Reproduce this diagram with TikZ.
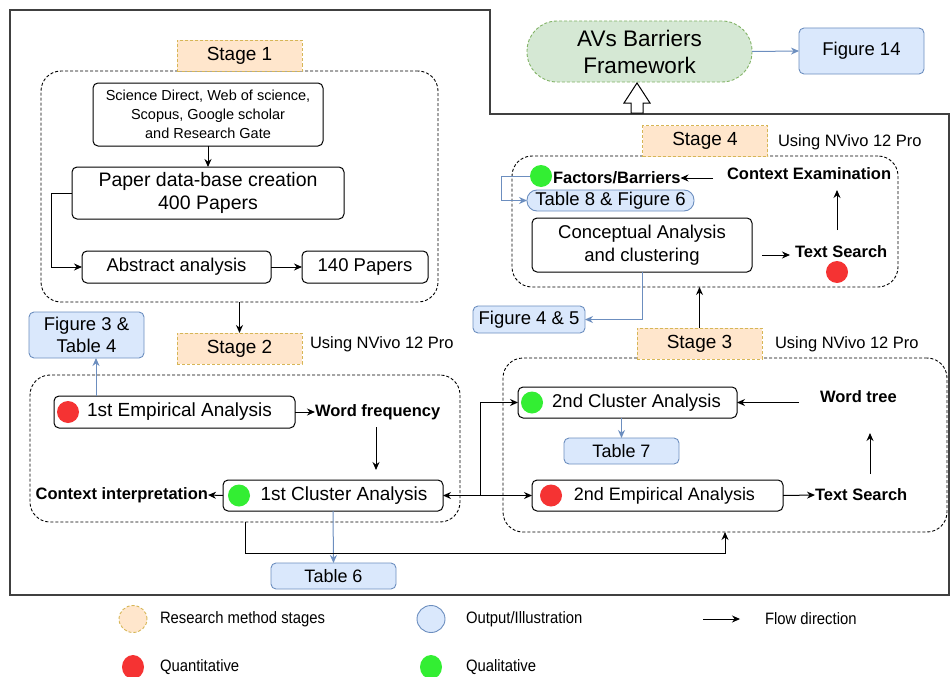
\documentclass[tikz,border=0pt]{standalone}
\usepackage{fontspec}
\setmainfont{Liberation Sans}
\newfontfamily\legfont{Liberation Sans}[FakeStretch=0.9]
\usetikzlibrary{arrows.meta,shapes.geometric}
\definecolor{orfill}{HTML}{FFE6CC}
\definecolor{ordraw}{HTML}{D6B656}
\definecolor{blfill}{HTML}{DAE8FC}
\definecolor{bldraw}{HTML}{6C8EBF}
\definecolor{grfill}{HTML}{D5E8D4}
\definecolor{grdraw}{HTML}{82B366}
\definecolor{reddot}{HTML}{F53333}
\definecolor{grndot}{HTML}{33EE33}
\definecolor{frame}{HTML}{404040}
\tikzset{
  every node/.style={inner sep=0pt, outer sep=0pt},
  wbox/.style={draw=black, fill=white, rounded corners=5pt, line width=1pt, align=center},
  stagebox/.style={draw=ordraw, fill=orfill, dash pattern=on 3pt off 2pt, line width=0.9pt, minimum width=125pt, minimum height=31pt, font=\fontsize{19}{22}\selectfont},
  outbox/.style={draw=bldraw, fill=blfill, rounded corners=5pt, line width=0.9pt, align=center, font=\fontsize{18.5}{22}\selectfont},
  container/.style={draw=black, dash pattern=on 3pt off 2pt, rounded corners=20pt, line width=0.9pt},
  lbl/.style={font=\bfseries\fontsize{16.5}{20}\selectfont},
  usingtxt/.style={font=\fontsize{16.5}{20}\selectfont},
  rdot/.style={circle, fill=reddot, minimum size=22pt},
  gdot/.style={circle, fill=grndot, minimum size=22pt},
  flow/.style={-{Stealth[length=8pt,width=7pt]}, line width=1pt, black},
  bflow/.style={-{Stealth[length=8pt,width=7pt]}, line width=1pt, bldraw},
  legtxt/.style={font=\legfont\fontsize{16.5}{20}\selectfont, anchor=west}
}
\begin{document}
\begin{tikzpicture}[x=1pt,y=-1pt]
\useasboundingbox (0,0) rectangle (950,677);
% outer frame
\draw[frame, line width=1.5pt] (10,10) -- (490,10) -- (490,114) -- (949,114) -- (949,595) -- (10,595) -- cycle;

% ---------- Stage 1 ----------
\node[container, minimum width=397pt, minimum height=231pt] (c1) at (239.5,186.5) {};
\node[stagebox] (stage1) at (239.5,56) {Stage 1};
\node[wbox, minimum width=230pt, minimum height=63pt, font=\fontsize{14.5}{19}\selectfont] (src) at (208,114.5) {Science Direct, Web of science,\\Scopus, Google scholar\\and Research Gate};
\node[wbox, minimum width=272pt, minimum height=52pt, font=\fontsize{19.5}{23}\selectfont] (pdb) at (208,193) {Paper data-base creation\\400 Papers};
\node[wbox, minimum width=189pt, minimum height=32pt, font=\fontsize{18.5}{22}\selectfont] (abs) at (176.5,267) {Abstract analysis};
\node[wbox, minimum width=126pt, minimum height=32pt, font=\fontsize{18.5}{22}\selectfont] (p140) at (365,267) {140 Papers};
\draw[flow] (src) -- (pdb);
\draw[flow] (pdb.west) -- ++(-21,0) |- (abs.west);
\draw[flow] (abs) -- (p140);

% ---------- Stage 2 ----------
\node[stagebox] (stage2) at (239.5,348.5) {Stage 2};
\node[usingtxt, anchor=west] (using2) at (310,344) {Using NVivo 12 Pro};
\draw[flow] (c1.south) -- (stage2.north);
\node[outbox, minimum width=115pt, minimum height=46pt] (fig3) at (86.5,335) {Figure 3 \&\\Table 4};
\node[container, minimum width=430pt, minimum height=147pt] (c2) at (245,448.5) {};
\node[wbox, minimum width=241pt, minimum height=32pt, font=\fontsize{19}{22}\selectfont] (emp1) at (174.5,412) {\hspace*{10pt}1st Empirical Analysis};
\node[rdot] (emp1dot) at (68,412) {};
\node[lbl, anchor=west] (wf) at (315,412) {Word frequency};
\node[wbox, minimum width=220pt, minimum height=31pt, font=\fontsize{19}{22}\selectfont] (clu1) at (333,495.5) {\hspace*{22pt}1st Cluster Analysis};
\node[gdot] (clu1dot) at (239,495.5) {};
\node[lbl, anchor=east] (ctx) at (208,495) {Context interpretation};
\coordinate (e1up) at (96,396);
\draw[bflow] (e1up) -- (e1up |- fig3.south);
\draw[flow] (emp1.east) -- (wf.west);
\coordinate (wfA) at (376,427);
\coordinate (wfB) at (376,470);
\draw[flow] (wfA) -- (wfB);
\draw[flow] (clu1.west) -- (ctx.east);
\node[outbox, minimum width=125pt, minimum height=26pt, font=\fontsize{18}{22}\selectfont] (table6) at (333.5,576) {Table 6};
\draw[bflow] (clu1.south) -- (table6.north);

% ---------- Stage 3 ----------
\node[container, minimum width=444pt, minimum height=174pt] (c3) at (725,445) {};
\node[stagebox] (stage3) at (699.5,343.5) {Stage 3};
\node[usingtxt, anchor=west] (using3) at (775,344) {Using NVivo 12 Pro};
\node[wbox, minimum width=219pt, minimum height=31pt, font=\fontsize{18.5}{22}\selectfont] (clu2) at (627.5,402.5) {\hspace*{18pt}2nd Cluster Analysis};
\node[gdot] (clu2dot) at (532,402.5) {};
\node[lbl, anchor=west] (wtree) at (820,397) {Word tree};
\node[outbox, minimum width=115pt, minimum height=26pt, font=\fontsize{18}{22}\selectfont] (table7) at (621.5,451) {Table 7};
\node[wbox, minimum width=251pt, minimum height=31pt, font=\fontsize{18}{22}\selectfont] (emp2) at (657.5,495.5) {\hspace*{14pt}2nd Empirical Analysis};
\node[rdot] (emp2dot) at (551,495.5) {};
\node[lbl, anchor=west] (ts3) at (815,495) {Text Search};
\coordinate (J) at (480,495.5);
\draw[flow] (J) -- (clu1.east);
\draw[flow] (J) |- (clu2.west);
\draw[flow] (J) -- (emp2.west);
\draw[flow] (c2.south) -- ++(0,31) -| (c3.south);
\coordinate (wtA) at (799,402.5);
\draw[flow] (wtA) -- (clu2.east);
\coordinate (tsA) at (870,474);
\coordinate (tsB) at (870,433);
\draw[flow] (tsA) -- (tsB);
\draw[flow] (emp2.east) -- (ts3.west);
\draw[bflow] (table7.north |- clu2.south) -- (table7.north);

% ---------- Stage 4 ----------
\node[container, minimum width=386pt, minimum height=131pt] (c4) at (705,221.5) {};
\node[stagebox] (stage4) at (705,141) {Stage 4};
\node[usingtxt, anchor=west] (using4) at (778,142) {Using NVivo 12 Pro};
\draw[flow] (stage3.north) -- (stage3.north |- c4.south);
\node[gdot] (fbdot) at (541,176) {};
\node[lbl, anchor=west] (fb) at (553,178) {Factors/Barriers};
\node[lbl, anchor=west] (ce) at (727,174) {Context Examination};
\node[outbox, minimum width=167pt, minimum height=21pt, rounded corners=10pt] (table8) at (610.5,200.5) {Table 8 \& Figure 6};
\node[wbox, minimum width=220pt, minimum height=54pt, font=\fontsize{18.5}{23}\selectfont] (ca) at (642,245) {Conceptual Analysis\\and clustering};
\node[lbl, anchor=west] (ts4) at (795,252) {Text Search};
\node[rdot] (ts4dot) at (837,272) {};
\node[outbox, minimum width=112pt, minimum height=27pt] (fig45) at (529,319.5) {Figure 4 \& 5};
\coordinate (ceA) at (713,178);
\draw[flow] (ceA) -- (fb.east);
\coordinate (t4A) at (837,230);
\coordinate (t4B) at (837,190);
\draw[flow] (t4A) -- (t4B);
\coordinate (caA) at (762,255);
\coordinate (caB) at (790,255);
\draw[flow] (caA) -- (caB);
\draw[bflow] (fbdot.west) -- ++(-29,0) |- (table8.west);
\draw[bflow] (ca.south) |- (fig45.east);

% ---------- Framework ----------
\node[draw=grdraw, fill=grfill, dash pattern=on 3pt off 2pt, line width=0.9pt, rounded corners=30pt, minimum width=225pt, minimum height=61pt, align=center, font=\fontsize{22.5}{27}\selectfont] (avs) at (639.5,51.5) {AVs Barriers\\Framework};
\node[outbox, minimum width=125pt, minimum height=46pt] (fig14) at (861.5,51) {Figure 14};
\draw[bflow] (avs.east) -- (fig14.west);
\draw[line width=1pt, fill=white] (631,113) -- (631,103) -- (624,103) -- (637,83) -- (650,103) -- (643,103) -- (643,113) -- cycle;

% ---------- Legend ----------
\node[ellipse, draw=ordraw, fill=orfill, dash pattern=on 3pt off 2pt, line width=0.9pt, minimum width=28pt, minimum height=27pt] (lg1) at (133,619) {};
\node[legtxt] (lg1t) at (160,619) {Research method stages};
\node[ellipse, draw=bldraw, fill=blfill, line width=0.9pt, minimum width=28pt, minimum height=27pt] (lg2) at (431,619) {};
\node[legtxt] (lg2t) at (466,619) {Output/Illustration};
\coordinate (lgA) at (703,619);
\coordinate (lgB) at (740,619);
\draw[flow] (lgA) -- (lgB);
\node[legtxt] (lg3t) at (765,619) {Flow direction};
\node[ellipse, fill=reddot, minimum width=22pt, minimum height=24pt] (lg4) at (133,667) {};
\node[legtxt] (lg4t) at (160,667) {Quantitative};
\node[ellipse, fill=grndot, minimum width=22pt, minimum height=24pt] (lg5) at (431,667) {};
\node[legtxt] (lg5t) at (466,667) {Qualitative};
\end{tikzpicture}
\end{document}
